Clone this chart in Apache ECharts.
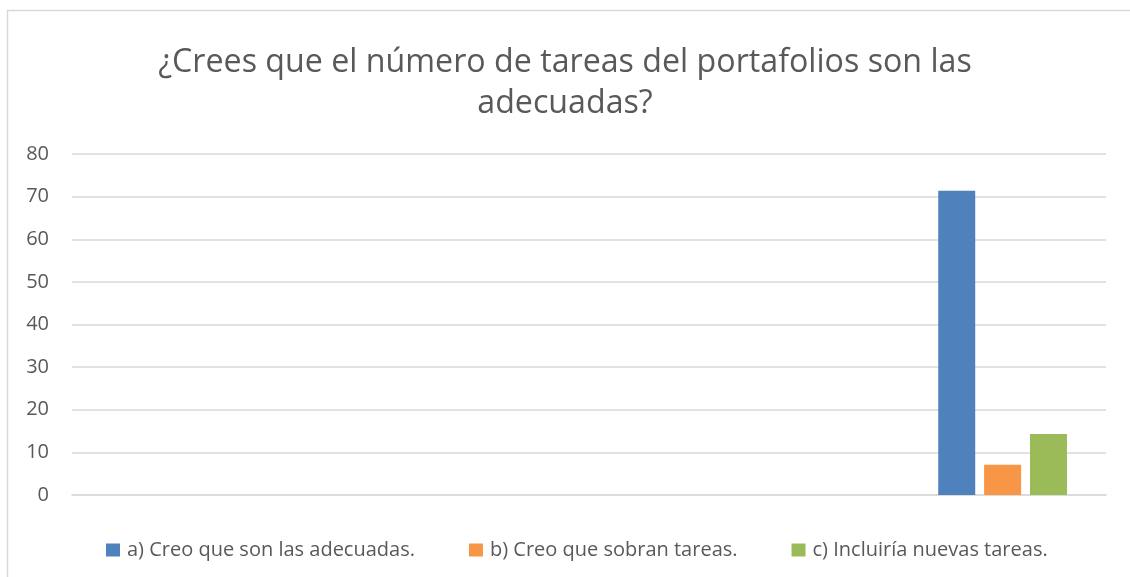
<!DOCTYPE html>
<html>
<head>
<meta charset="utf-8">
<script src="https://cdn.jsdelivr.net/npm/echarts@6/dist/echarts.min.js"></script>
<style>
  html, body { margin: 0; padding: 0; background: #fff; }
  #chart { width: 1130px; height: 577px; }
</style>
</head>
<body>
<div id="chart"></div>
<script>
// datos de la gráfica
const titleText = '¿Crees que el número de tareas del portafolios son las\nadecuadas?'
const categories = ['', '', '', '', '']
const seriesNames = [
  'a) Creo que son las adecuadas.',
  'b) Creo que sobran tareas.',
  'c) Incluiría nuevas tareas.'
]
const valuesA = [null, null, null, null, 71.4]
const valuesB = [null, null, null, null, 7.1]
const valuesC = [null, null, null, null, 14.3]
const colors = ['#4f81bd', '#f79646', '#9bbb59']

const fontFamily = '"Open Sans", Lato, sans-serif'
const chart = echarts.init(document.getElementById('chart'))

const option = {
  backgroundColor: '#fff',
  animation: false,
  color: colors,
  textStyle: { fontFamily },
  title: {
    text: titleText,
    left: 'center',
    top: 37,
    textStyle: {
      color: '#595959',
      fontSize: 32.2,
      fontWeight: 'normal',
      fontFamily,
      lineHeight: 41,
      align: 'center'
    }
  },
  // borde del área del gráfico
  graphic: [{
    type: 'rect',
    silent: true,
    shape: { x: 7.5, y: 10.5, width: 1200, height: 700 },
    style: { fill: 'none', stroke: '#d9d9d9', lineWidth: 1.5 }
  }],
  grid: { left: 72, right: 24, top: 154, bottom: 82 },
  xAxis: {
    type: 'category',
    data: categories,
    axisLine: { lineStyle: { color: '#d9d9d9', width: 1.5 } },
    axisTick: { show: false },
    axisLabel: { show: false }
  },
  yAxis: {
    type: 'value',
    min: 0,
    max: 80,
    interval: 10,
    axisLine: { show: false },
    axisTick: { show: false },
    axisLabel: { color: '#595959', fontSize: 20, margin: 23, fontFamily },
    splitLine: { lineStyle: { color: '#d9d9d9', width: 1.5 } }
  },
  legend: {
    data: seriesNames,
    left: 101,
    top: 535,
    itemWidth: 14,
    itemHeight: 13,
    itemGap: 54,
    icon: 'rect',
    textStyle: { color: '#595959', fontSize: 20, fontFamily, padding: [0, 0, 0, 2] }
  },
  series: [
    { name: seriesNames[0], type: 'bar', data: valuesA, barWidth: 37, barGap: '24%' },
    { name: seriesNames[1], type: 'bar', data: valuesB, barWidth: 37, barGap: '24%' },
    { name: seriesNames[2], type: 'bar', data: valuesC, barWidth: 37, barGap: '24%' }
  ]
}

chart.setOption(option)
</script>
</body>
</html>
